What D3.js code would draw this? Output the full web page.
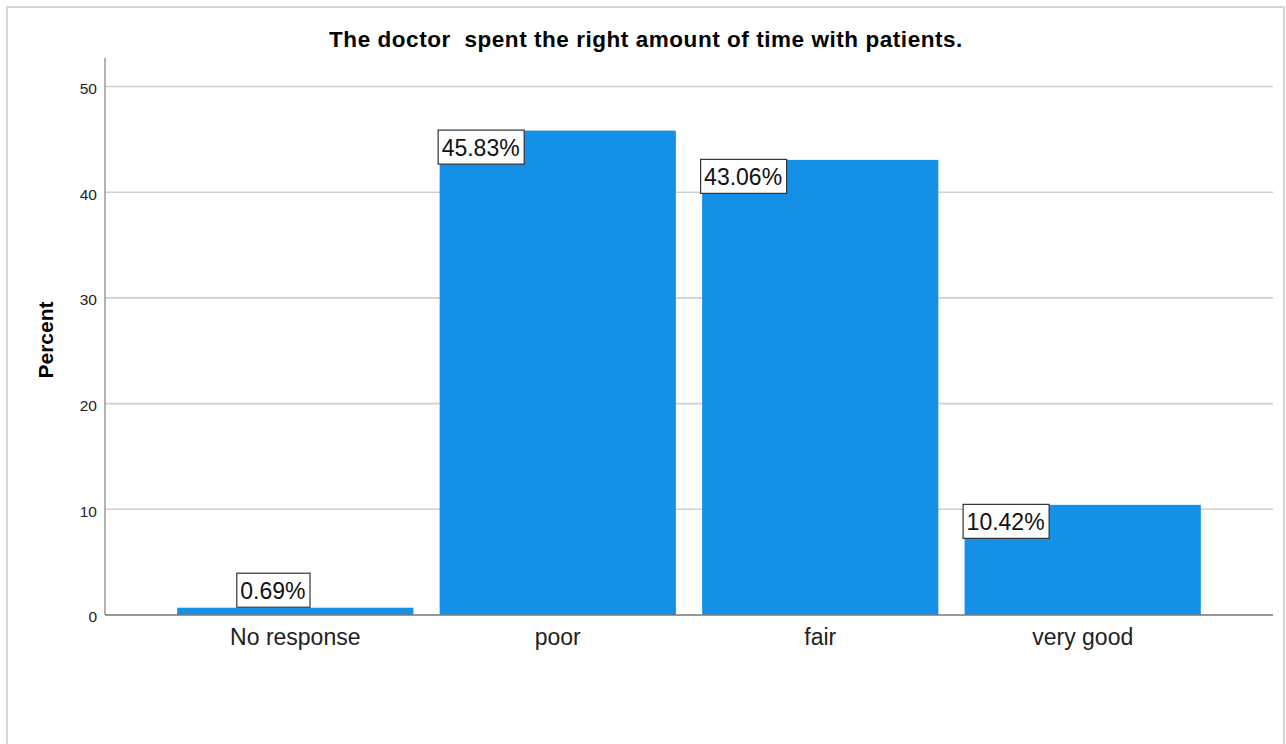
<!DOCTYPE html>
<html><head><meta charset="utf-8">
<script src="https://cdn.jsdelivr.net/npm/d3@7"></script>
<style>body{margin:0;background:#fff;} svg{display:block;}</style>
</head><body>
<svg id="c" width="1286" height="744"></svg>
<script>
const categories = ["No response", "poor", "fair", "very good"];
const percents = [0.69, 45.83, 43.06, 10.42];
const labels = ["0.69%", "45.83%", "43.06%", "10.42%"];
const yTicks = [0, 10, 20, 30, 40, 50];
const title = "The doctor\u00a0\u00a0spent the right amount of time with patients.";
const yTitle = "Percent";

const svg = d3.select("#c");
const font = "'Liberation Sans', Arial, sans-serif";
// frame
svg.append("rect").attr("x", 7).attr("y", 7).attr("width", 1277).attr("height", 760)
  .attr("fill", "none").attr("stroke", "#d6d6d6").attr("stroke-width", 2);

const pLeft = 105, pRight = 1273, pTop = 58, pBottom = 615;
const x = d3.scaleBand().domain(categories).range([pLeft, pRight]).paddingInner(0.1).paddingOuter(0.275);
const y = d3.scaleLinear().domain([0, 52.7]).range([pBottom, pTop]);

// gridlines
svg.append("g").selectAll("line").data(yTicks.filter(d => d > 0)).join("line")
  .attr("x1", pLeft).attr("x2", pRight).attr("y1", d => y(d)).attr("y2", d => y(d))
  .attr("stroke", "#cfcfcf").attr("stroke-width", 1.6);

// y axis
const ya = svg.append("g").attr("transform", `translate(${pLeft},0)`)
  .call(d3.axisLeft(y).tickValues(yTicks).tickSize(0).tickPadding(8));
ya.select(".domain").attr("stroke", "#9a9a9a").attr("stroke-width", 1.5).attr("d", `M0,${pTop}V${pBottom}`);
ya.selectAll("text").attr("font-family", font).attr("font-size", 15.5).attr("fill", "#222").attr("dy", "0.45em");

// bars
svg.append("g").selectAll("rect").data(categories).join("rect")
  .attr("x", d => x(d)).attr("width", x.bandwidth())
  .attr("y", (d, i) => y(percents[i])).attr("height", (d, i) => pBottom - y(percents[i]))
  .attr("fill", "#1490e6");

// x axis
const xa = svg.append("g").attr("transform", `translate(0,${pBottom})`)
  .call(d3.axisBottom(x).tickSize(0).tickPadding(14));
xa.select(".domain").attr("stroke", "#777").attr("stroke-width", 1.5).attr("d", `M${pLeft},0H${pRight}`);
xa.selectAll("text").attr("font-family", font).attr("font-size", 23).attr("fill", "#222");

// value labels
const lg = svg.append("g");
categories.forEach((c, i) => {
  const v = percents[i];
  const h = 34;
  let bx, by;
  if (pBottom - y(v) < h) { bx = x(c) + x.bandwidth() / 2 - 59; by = y(v) - h - 1; }
  else { bx = x(c) - 2; by = y(v) - 1; }
  const t = lg.append("text").attr("font-family", font).attr("font-size", 23).attr("fill", "#111")
    .attr("x", bx + 4).attr("y", by + 26.5).text(labels[i]);
  const tw = t.node().getComputedTextLength();
  lg.insert("rect", "text").attr("x", bx + 0.5).attr("y", by + 0.5).attr("width", tw + 8).attr("height", h)
    .attr("fill", "#fff").attr("stroke", "#333").attr("stroke-width", 1.2);
});

// title
svg.append("text").attr("x", 646).attr("y", 47).attr("text-anchor", "middle")
  .attr("font-family", font).attr("font-weight", "bold").attr("font-size", 22.5)
  .attr("letter-spacing", 0.55).attr("fill", "#000")
  .text(title);

// y title
svg.append("text").attr("transform", "translate(53,340) rotate(-90)").attr("text-anchor", "middle")
  .attr("font-family", font).attr("font-weight", "bold").attr("font-size", 21).attr("fill", "#000")
  .text(yTitle);
</script>
</body></html>
